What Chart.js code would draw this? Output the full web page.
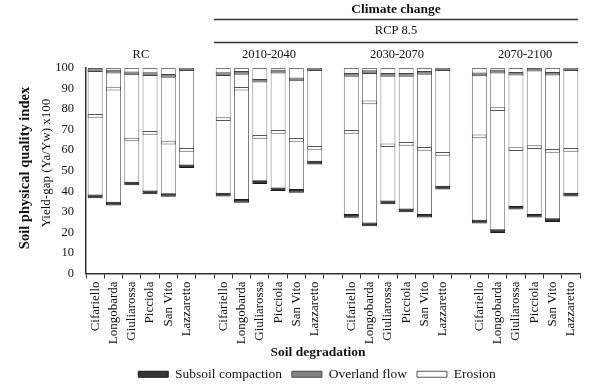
<!DOCTYPE html>
<html>
<head>
<meta charset="utf-8">
<script src="https://cdn.jsdelivr.net/npm/chart.js@4"></script>
<style>
html,body{margin:0;padding:0;background:#fff;}
#wrap{width:600px;height:391px;}
</style>
</head>
<body>
<div id="wrap"><canvas id="c" width="600" height="391"></canvas></div>
<script>
// ---- data ----
const soils = ['Cifariello','Longobarda','Giuliarossa','Picciola','San Vito','Lazzaretto'];
const periods = ['RC','2010-2040','2030-2070','2070-2100'];
const yTicks = [0,10,20,30,40,50,60,70,80,90,100];

const subsoilRC   = [37.5, 34.0, 43.8, 39.5, 38.2, 52.2];
const subsoil1040 = [38.4, 35.3, 44.5, 41.0, 40.2, 54.0];
const subsoil3070 = [28.0, 23.9, 34.6, 30.7, 28.1, 41.8];
const subsoil7000 = [25.2, 20.6, 32.0, 28.1, 26.0, 38.4];

const overlandRC   = [99.0, 98.2, 97.4, 97.0, 96.2, 99.5];
const overland1040 = [97.0, 97.6, 93.8, 98.2, 94.5, 99.5];
const overland3070 = [96.7, 98.0, 96.7, 96.7, 97.6, 99.5];
const overland7000 = [96.9, 98.2, 97.2, 99.2, 97.2, 99.5];

const erosionRC   = [76.7, 90.0, 65.2, 68.4, 63.7, 60.2];
const erosion1040 = [75.1, 89.9, 66.5, 68.9, 65.0, 61.1];
const erosion3070 = [68.9, 83.3, 62.4, 63.1, 60.6, 58.2];
const erosion7000 = [66.7, 80.0, 60.5, 61.5, 59.7, 60.2];

const barTop = 100;

// ---- build category axis (blank category between periods) ----
const subsoilAll = [subsoilRC, subsoil1040, subsoil3070, subsoil7000];
const overlandAll = [overlandRC, overland1040, overland3070, overland7000];
const erosionAll = [erosionRC, erosion1040, erosion3070, erosion7000];

const labels = [];
const baseVals = [], subVals = [], overVals = [], eroVals = [];
periods.forEach((p, gi) => {
  if (gi > 0) { labels.push(''); baseVals.push(null); subVals.push(null); overVals.push(null); eroVals.push(null); }
  soils.forEach((s, si) => {
    labels.push(s);
    baseVals.push(subsoilAll[gi][si]);
    subVals.push(subsoilAll[gi][si]);
    overVals.push(overlandAll[gi][si]);
    eroVals.push(erosionAll[gi][si]);
  });
});
const H = 0.9; // half thickness of marker (value units)
const span = v => v == null ? null : [v - H, v + H];

const FONT = "'Liberation Serif', 'Times New Roman', serif";

const annot = {
  id: 'annot',
  afterDraw(chart) {
    const ctx = chart.ctx, x = chart.scales.x, area = chart.chartArea;
    const w = x.getPixelForValue(1) - x.getPixelForValue(0);
    ctx.save();
    ctx.fillStyle = '#111';
    ctx.textAlign = 'center';
    ctx.textBaseline = 'middle';
    // group labels
    ctx.font = "12.5px " + FONT;
    periods.forEach((p, gi) => {
      const i0 = gi * 7, i1 = gi * 7 + 5;
      const cx = (x.getPixelForValue(i0) + x.getPixelForValue(i1)) / 2;
      ctx.fillText(p, cx, 55);
    });
    const lx0 = x.getPixelForValue(7) - w / 2, lx1 = area.right - 2;
    const mid = (lx0 + lx1) / 2;
    ctx.font = "bold 13.5px " + FONT;
    ctx.fillText('Climate change', mid, 10);
    ctx.font = "12.5px " + FONT;
    ctx.fillText('RCP 8.5', mid, 31);
    ctx.strokeStyle = '#333';
    ctx.lineWidth = 1.5;
    ctx.beginPath();
    ctx.moveTo(lx0, 19.5); ctx.lineTo(lx1, 19.5);
    ctx.moveTo(lx0, 42.5); ctx.lineTo(lx1, 42.5);
    ctx.stroke();
    // x title
    ctx.font = "bold 13.5px " + FONT;
    ctx.fillText('Soil degradation', 318, 353);
    // y titles
    ctx.save();
    ctx.translate(25, 168);
    ctx.rotate(-Math.PI / 2);
    ctx.font = "bold 14.5px " + FONT;
    ctx.fillText('Soil physical quality index', 0, 0);
    ctx.restore();
    ctx.save();
    ctx.translate(46.5, 163);
    ctx.rotate(-Math.PI / 2);
    ctx.font = "13px " + FONT;
    ctx.fillText('Yield-gap (Ya/Yw) x100', 0, 0);
    ctx.restore();
    ctx.restore();
  }
};

const common = { borderWidth: 1, borderSkipped: false, grouped: false, barPercentage: 0.82, categoryPercentage: 1 };

new Chart(document.getElementById('c'), {
  type: 'bar',
  data: {
    labels: labels,
    datasets: [
      Object.assign({ label: 'Subsoil compaction', data: subVals.map(span), backgroundColor: '#363636', borderColor: '#1a1a1a', order: 0 }, common),
      Object.assign({ label: 'Overland flow', data: overVals.map(span), backgroundColor: '#858585', borderColor: '#444444', order: 0 }, common),
      Object.assign({ label: 'Erosion', data: eroVals.map(span), backgroundColor: '#ffffff', borderColor: '#555555', order: 0 }, common),
      Object.assign({ label: 'range', data: baseVals.map(v => v == null ? null : [v, barTop]), backgroundColor: '#ffffff', borderColor: '#7a7a7a', order: 10 }, common)
    ]
  },
  options: {
    responsive: false,
    animation: false,
    devicePixelRatio: 1,
    layout: { padding: { top: 68, right: 20, left: 54, bottom: 0 } },
    plugins: {
      tooltip: { enabled: false },
      legend: {
        position: 'bottom',
        labels: {
          filter: item => item.text !== 'range',
          boxWidth: 30, boxHeight: 6,
          color: '#111',
          font: { family: FONT, size: 13.5 },
          padding: 10
        }
      }
    },
    scales: {
      x: {
        offset: true,
        afterFit: s => { s.height = 84; },
        grid: { display: true, offset: true, drawOnChartArea: false, color: '#333', tickLength: 5, lineWidth: 1 },
        border: { display: true, color: '#333', width: 1.5 },
        ticks: { autoSkip: false, minRotation: 90, maxRotation: 90, color: '#111', font: { family: FONT, size: 13 }, padding: 3 }
      },
      y: {
        min: 0, max: 100,
        afterBuildTicks: s => { s.ticks = yTicks.map(v => ({ value: v })); },
        afterFit: s => { s.width = 32; },
        grid: { display: false, drawTicks: false },
        border: { display: true, color: '#333', width: 1.5 },
        ticks: { color: '#111', font: { family: FONT, size: 12.5 }, padding: 12 }
      }
    }
  },
  plugins: [annot]
});
</script>
</body>
</html>
